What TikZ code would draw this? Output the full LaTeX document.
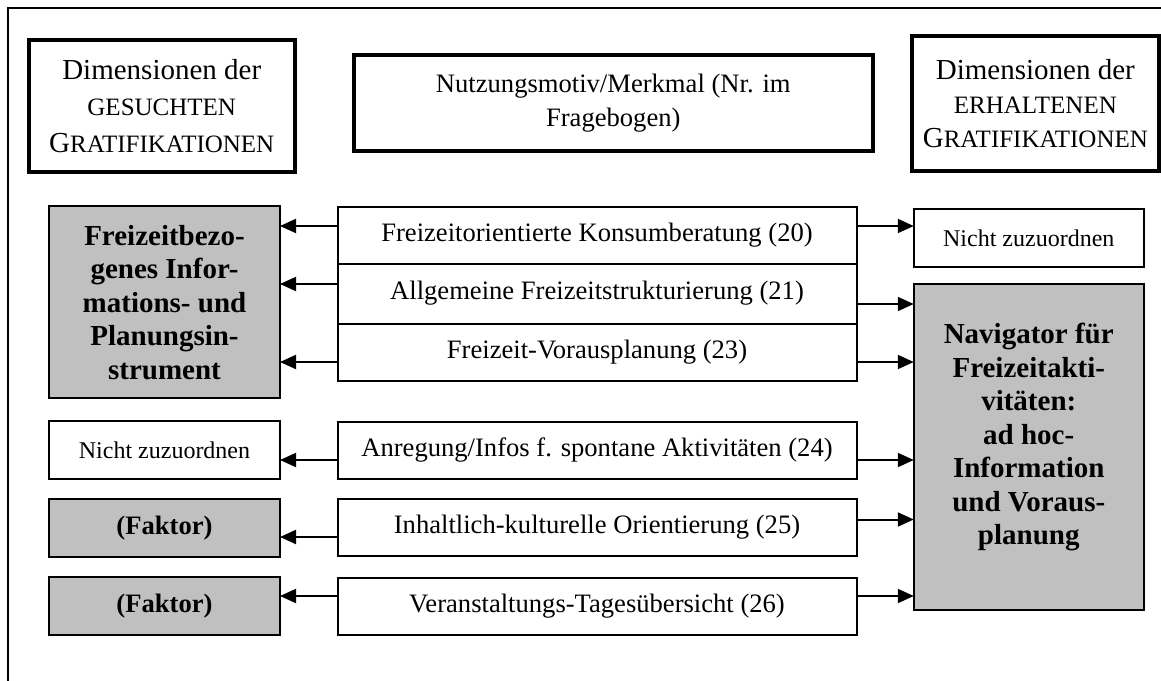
\documentclass[tikz,border=0pt]{standalone}
\usepackage{fontspec}
\setmainfont{Liberation Serif}
\usetikzlibrary{arrows.meta}
\definecolor{boxgray}{RGB}{192,192,192}

% caps set smaller for the small-capital words in the headings
\newcommand\smallcapword[1]{{\fontsize{25}{36}\selectfont #1}}

\begin{document}
\begin{tikzpicture}[x=1pt,y=-1pt,
  every node/.style={inner sep=0pt, outer sep=0pt},
  headbox/.style={draw, line width=4pt, align=center},
  stackbox/.style={draw, line width=2pt, fill=white, align=center,
    font=\fontsize{26.6}{32}\selectfont},
  plainbox/.style={draw, line width=2pt, fill=white, align=center,
    font=\fontsize{24}{30}\selectfont},
  graybox/.style={draw, line width=2pt, fill=boxgray, align=center},
  boldbig/.style={font=\fontsize{29}{33.5}\selectfont\bfseries, align=center},
  arr/.style={-{Triangle[length=16pt,width=14pt]}, line width=2pt}
]
\useasboundingbox (0,0) rectangle (1161,680);
\clip (0,0) rectangle (1161,680);

% outer frame (runs off the right and bottom edge)
\draw[line width=2.4pt] (1200,8) -- (8,8) -- (8,720);

% column headings
\node[headbox, font=\fontsize{29}{36.5}\selectfont,
      minimum width=266.5pt, minimum height=132.5pt] (hL) at (161.75,105.75)
  {Dimensionen der\\\smallcapword{GESUCHTEN}\\G\smallcapword{RATIFIKATIONEN}};
\node[headbox, font=\fontsize{26.6}{34}\selectfont,
      minimum width=518.5pt, minimum height=95.5pt] (hM) at (613.25,102.75)
  {Nutzungsmotiv/Merkmal (Nr. im\\Fragebogen)};
\node[headbox, font=\fontsize{29}{34}\selectfont,
      minimum width=247.3pt, minimum height=134.2pt] (hR) at (1035.35,103.4)
  {Dimensionen der\\\smallcapword{ERHALTENEN}\\G\smallcapword{RATIFIKATIONEN}};

% usage motives (middle column)
\node[stackbox, minimum width=519pt, minimum height=56.5pt] (m20) at (597,235.25)
  {Freizeitorientierte Konsumberatung (20)};
\node[stackbox, minimum width=519pt, minimum height=60pt] (m21) at (597,293.5)
  {Allgemeine Freizeitstrukturierung (21)};
\node[stackbox, minimum width=519pt, minimum height=57pt] (m23) at (597,352)
  {Freizeit-Vorausplanung (23)};
\node[stackbox, minimum width=519pt, minimum height=56.5pt] (m24) at (597,450.25)
  {Anregung/Infos f. spontane Aktivitäten (24)};
\node[stackbox, minimum width=519pt, minimum height=57pt] (m25) at (597,527.5)
  {Inhaltlich-kulturelle Orientierung (25)};
\node[stackbox, minimum width=519pt, minimum height=57.5pt] (m26) at (597,606.25)
  {Veranstaltungs-Tagesübersicht (26)};

% sought gratifications (left column)
\node[graybox, boldbig, minimum width=231pt, minimum height=192pt] (gL) at (164.5,302.3)
  {Freizeitbezo-\\genes Infor-\\mations- und\\Planungsin-\\strument};
\node[plainbox, minimum width=231pt, minimum height=57.7pt] (nL) at (164.5,450.15)
  {Nicht zuzuordnen};
\node[graybox, font=\fontsize{26.6}{32}\selectfont\bfseries,
      minimum width=231pt, minimum height=57.3pt] (f1) at (164.5,527.85) {(Faktor)};
\node[graybox, font=\fontsize{26.6}{32}\selectfont\bfseries,
      minimum width=231pt, minimum height=58pt] (f2) at (164.5,606) {(Faktor)};

% obtained gratifications (right column)
\node[plainbox, minimum width=230pt, minimum height=57.4pt] (nR) at (1028.75,238)
  {Nicht zuzuordnen};
\node[graybox, minimum width=230pt, minimum height=325.4pt] (nav) at (1028.75,447) {};
\node[boldbig] (navtext) at (1028.75,437)
  {Navigator für\\Freizeitakti-\\vitäten:\\ad hoc-\\Information\\und Voraus-\\planung};

% heights of the connector rows
\coordinate (r1) at (0,226);
\coordinate (r2l) at (0,284);
\coordinate (r2r) at (0,304);
\coordinate (r3) at (0,362);
\coordinate (r4) at (0,460);
\coordinate (r5l) at (0,537);
\coordinate (r5r) at (0,519.5);
\coordinate (r6) at (0,596);

% connectors to the sought gratifications
\draw[arr] (m20.west |- r1)  -- (gL.east |- r1);
\draw[arr] (m21.west |- r2l) -- (gL.east |- r2l);
\draw[arr] (m23.west |- r3)  -- (gL.east |- r3);
\draw[arr] (m24.west |- r4)  -- (nL.east |- r4);
\draw[arr] (m25.west |- r5l) -- (f1.east |- r5l);
\draw[arr] (m26.west |- r6)  -- (f2.east |- r6);

% connectors to the obtained gratifications
\draw[arr] (m20.east |- r1)  -- (nR.west |- r1);
\draw[arr] (m21.east |- r2r) -- (nav.west |- r2r);
\draw[arr] (m23.east |- r3)  -- (nav.west |- r3);
\draw[arr] (m24.east |- r4)  -- (nav.west |- r4);
\draw[arr] (m25.east |- r5r) -- (nav.west |- r5r);
\draw[arr] (m26.east |- r6)  -- (nav.west |- r6);
\end{tikzpicture}
\end{document}
